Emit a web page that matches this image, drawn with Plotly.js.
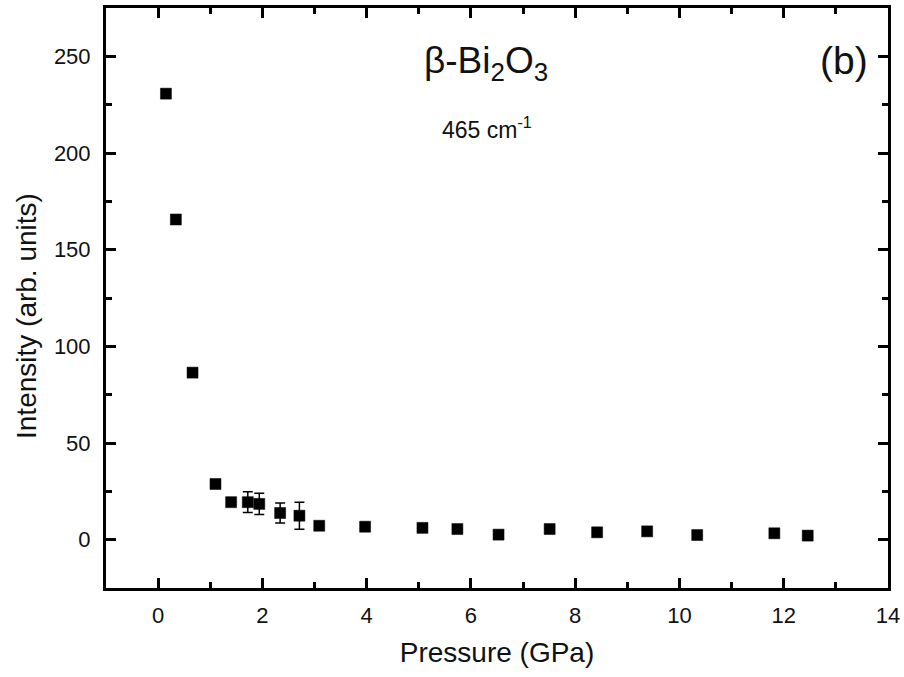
<!DOCTYPE html>
<html>
<head>
<meta charset="utf-8">
<script src="https://cdn.plot.ly/plotly-3.0.1.min.js"></script>
<style>html,body{margin:0;padding:0;background:#fff;}#chart{width:904px;height:677px;}</style>
</head>
<body>
<div id="chart"></div>
<script>
const pressure = [0.15, 0.34, 0.66, 1.10, 1.40, 1.72, 1.94, 2.34, 2.71, 3.09, 3.97, 5.07, 5.74, 6.53, 7.51, 8.42, 9.38, 10.34, 11.82, 12.46];
const intensity = [230.7, 165.6, 86.4, 28.8, 19.4, 19.4, 18.5, 13.8, 12.4, 7.2, 6.7, 6.1, 5.5, 2.6, 5.5, 3.8, 4.3, 2.4, 3.3, 2.1];
const intensityErr = [0, 0, 0, 0, 0, 5.4, 5.5, 5.2, 7.0, 0, 0, 0, 0, 0, 0, 0, 0, 0, 0, 0];

const FONT = "Liberation Sans, Arial, sans-serif";

const trace = {
  x: pressure,
  y: intensity,
  type: 'scatter',
  mode: 'markers',
  marker: {symbol: 'square', size: 11, color: '#000', line: {width: 0.5, color: '#000'}},
  error_y: {type: 'data', array: intensityErr, visible: true, color: '#000', thickness: 1.5, width: 5},
  showlegend: false
};

const axisCommon = {
  showgrid: false,
  zeroline: false,
  showline: true,
  linecolor: '#000',
  linewidth: 3,
  mirror: 'ticks',
  ticks: 'inside',
  ticklen: 10,
  tickwidth: 3,
  tickcolor: '#000',
  tickfont: {family: FONT, size: 22, color: '#111'},
  minor: {ticks: 'inside', ticklen: 6, tickwidth: 3, tickcolor: '#000'}
};

const layout = {
  width: 904,
  height: 677,
  paper_bgcolor: '#fff',
  plot_bgcolor: '#fff',
  margin: {l: 106, r: 16, t: 8, b: 89},
  font: {family: FONT, color: '#111'},
  xaxis: Object.assign({}, axisCommon, {
    range: [-1, 14],
    tickvals: [0, 2, 4, 6, 8, 10, 12, 14],
    minor: Object.assign({}, axisCommon.minor, {dtick: 1}),
    ticklabelstandoff: 6,
    title: {text: 'Pressure (GPa)', font: {family: FONT, size: 28, color: '#111'}, standoff: 15}
  }),
  yaxis: Object.assign({}, axisCommon, {
    range: [-25, 275],
    tickvals: [0, 50, 100, 150, 200, 250],
    minor: Object.assign({}, axisCommon.minor, {dtick: 25}),
    ticklabelstandoff: 8
  }),
  annotations: [
    {xref: 'paper', yref: 'paper', x: -0.101, y: 0.469, xanchor: 'center', yanchor: 'middle', showarrow: false,
     textangle: -90, text: 'Intensity (arb. units)', font: {family: FONT, size: 28, color: '#111'}},
    {xref: 'paper', yref: 'paper', x: 0.486, y: 0.905, xanchor: 'center', yanchor: 'middle', showarrow: false,
     text: 'β-Bi<sub>2</sub>O<sub>3</sub>', font: {family: FONT, size: 37, color: '#111'}},
    {xref: 'paper', yref: 'paper', x: 0.487, y: 0.793, xanchor: 'center', yanchor: 'middle', showarrow: false,
     text: '465 cm<sup>-1</sup>', font: {family: FONT, size: 23, color: '#111'}},
    {xref: 'paper', yref: 'paper', x: 0.977, y: 0.909, xanchor: 'right', yanchor: 'middle', showarrow: false,
     text: '(b)', font: {family: FONT, size: 39, color: '#111'}}
  ]
};

Plotly.newPlot('chart', [trace], layout, {displayModeBar: false, staticPlot: true});
</script>
</body>
</html>
